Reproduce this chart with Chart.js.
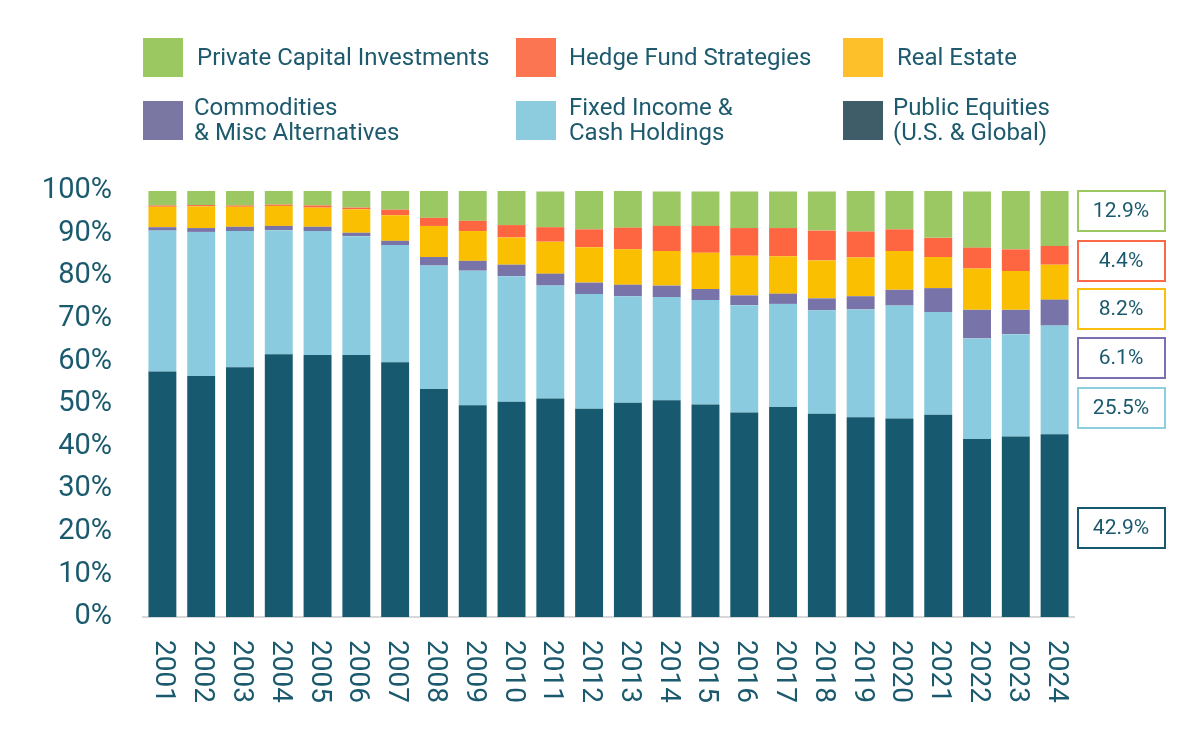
<!DOCTYPE html>
<html>
<head>
<meta charset="utf-8">
<script src="https://cdn.jsdelivr.net/npm/chart.js@4/dist/chart.umd.min.js"></script>
<style>
  body { margin: 0; background: #fff; font-family: Roboto, "Noto Sans", sans-serif; }
  #wrap { position: relative; width: 1200px; height: 750px; }
  #legend { position: absolute; left: 0; top: 0; width: 1200px; height: 160px; color: #1d5a6d; font-size: 24px; }
  .item { position: absolute; display: flex; align-items: flex-start; }
  .box { width: 40px; height: 39px; margin-right: 13px; flex: none; }
  .item span { line-height: 25px; margin-top: 7px; }
  .item span.two { margin-top: -6px; }
</style>
</head>
<body>
<div id="wrap">
  <canvas id="chart" width="1200" height="750"></canvas>
  <div id="legend"></div>
</div>
<script>
// ============ DATA ============
const years = ["2001","2002","2003","2004","2005","2006","2007","2008","2009","2010","2011","2012",
  "2013","2014","2015","2016","2017","2018","2019","2020","2021","2022","2023","2024"];

const publicEquities = [57.6,56.6,58.6,61.7,61.5,61.5,59.8,53.5,49.7,50.5,51.3,48.9,50.3,50.9,49.9,48.0,49.3,47.7,46.9,46.6,47.5,41.8,42.4,42.9];
const fixedIncome    = [33.1,33.8,32.0,29.1,29.1,27.9,27.5,29.0,31.6,29.5,26.5,26.9,25.0,24.2,24.5,25.2,24.2,24.3,25.3,26.5,24.1,23.6,24.0,25.5];
const commodities    = [0.8,0.9,1.0,1.0,1.0,0.8,1.0,2.0,2.3,2.7,2.8,2.7,2.7,2.7,2.6,2.3,2.4,2.8,3.1,3.7,5.6,6.7,5.7,6.1];
const realEstate     = [4.8,5.1,4.7,4.7,4.5,5.5,6.0,7.3,7.0,6.4,7.5,8.3,8.3,8.1,8.5,9.3,8.8,8.9,9.1,9.1,7.3,9.7,9.1,8.2];
const hedgeFunds     = [0.3,0.3,0.3,0.3,0.5,0.4,1.3,1.9,2.4,2.9,3.4,4.2,5.1,5.9,6.3,6.5,6.6,7.0,6.1,5.1,4.5,4.9,5.1,4.4];
const privateCapital = [3.5,3.4,3.4,3.2,3.4,3.9,4.5,6.3,7.0,8.0,8.4,9.0,8.6,8.1,8.1,8.6,8.6,9.2,9.6,9.0,11.0,13.2,13.7,12.9];

const yTicks = [0,10,20,30,40,50,60,70,80,90,100];

const TEXT = "#1b5a6e";

// series, bottom of stack first
const series = [
  { label: ["Public Equities", "(U.S. & Global)"], data: publicEquities, color: "#175a70", legend: "#3e5d69", box: "#175a70" },
  { label: ["Fixed Income &", "Cash Holdings"], data: fixedIncome, color: "#8bcbdf", legend: "#8dccdf", box: "#8dcfe0" },
  { label: ["Commodities", "& Misc Alternatives"], data: commodities, color: "#7873a8", legend: "#7b77a3", box: "#7a6fb0" },
  { label: ["Real Estate"], data: realEstate, color: "#f9bf00", legend: "#fdc02a", box: "#fbbf10" },
  { label: ["Hedge Fund Strategies"], data: hedgeFunds, color: "#fe6541", legend: "#fb7553", box: "#fb6a48" },
  { label: ["Private Capital Investments"], data: privateCapital, color: "#9bc863", legend: "#9cc862", box: "#9cc862" }
];

// ============ LEGEND (html) ============
const legendSpots = [
  { s: 0, x: 843, y: 101, gap: 10 },
  { s: 1, x: 516, y: 101, gap: 13 },
  { s: 2, x: 143, y: 101, gap: 11 },
  { s: 3, x: 843, y: 38, gap: 14 },
  { s: 4, x: 516, y: 38, gap: 13 },
  { s: 5, x: 143, y: 38, gap: 14 }
];
const legend = document.getElementById("legend");
legendSpots.forEach((p) => {
  const ser = series[p.s];
  const div = document.createElement("div");
  div.className = "item";
  div.style.left = p.x + "px";
  div.style.top = p.y + "px";
  const cls = ser.label.length > 1 ? "two" : "";
  div.innerHTML = `<div class="box" style="background:${ser.legend};margin-right:${p.gap}px"></div><span class="${cls}">${ser.label.join("<br>")}</span>`;
  legend.appendChild(div);
});

// ============ PLUGINS ============
const yearLabels = {
  id: "yearLabels",
  afterDraw(chart) {
    const ctx = chart.ctx;
    const xs = chart.scales.x;
    ctx.save();
    ctx.fillStyle = TEXT;
    ctx.font = "28px Roboto";
    ctx.textAlign = "left";
    ctx.textBaseline = "middle";
    years.forEach((yr, i) => {
      ctx.save();
      ctx.translate(xs.getPixelForTick(i) + 1, 640);
      ctx.rotate(Math.PI / 2);
      ctx.fillText(yr, 0, 0);
      ctx.restore();
    });
    ctx.restore();
  }
};

const boxCenters = [528, 408, 358, 309, 261, 211];
const lastValues = {
  id: "lastValues",
  afterDraw(chart) {
    const ctx = chart.ctx;
    ctx.save();
    ctx.font = "21px Roboto";
    ctx.fillStyle = TEXT;
    ctx.textAlign = "center";
    ctx.textBaseline = "middle";
    series.forEach((ser, i) => {
      const v = ser.data[ser.data.length - 1];
      const cy = boxCenters[i];
      ctx.strokeStyle = ser.box;
      ctx.lineWidth = 2;
      ctx.strokeRect(1078, cy - 20, 87, 40);
      ctx.fillText(v.toFixed(1) + "%", 1121, cy + 1);
    });
    ctx.restore();
  }
};

// ============ CHART ============
const ctx = document.getElementById("chart").getContext("2d");
new Chart(ctx, {
  type: "bar",
  data: {
    labels: years,
    datasets: series.map((s) => ({
      label: s.label.join(" "),
      data: s.data,
      backgroundColor: s.color,
      borderWidth: 0,
      barPercentage: 0.72,
      categoryPercentage: 1
    }))
  },
  options: {
    responsive: false,
    animation: false,
    layout: { padding: { top: 191, right: 126, bottom: 0, left: 0 } },
    plugins: { legend: { display: false }, tooltip: { enabled: false } },
    scales: {
      x: {
        stacked: true,
        grid: { display: false, drawTicks: false },
        border: { display: true, color: "#d8d8d8", width: 2 },
        ticks: { display: false },
        afterFit(scale) { scale.height = 133; }
      },
      y: {
        stacked: true,
        min: 0,
        max: 100,
        afterBuildTicks(scale) { scale.ticks = yTicks.map((v) => ({ value: v })); },
        grid: { display: false, drawTicks: false },
        border: { display: false },
        ticks: {
          color: TEXT,
          font: { family: "Roboto", size: 29 },
          padding: 31,
          callback: (v) => v + "%"
        },
        afterFit(scale) { scale.width = 143; }
      }
    }
  },
  plugins: [yearLabels, lastValues]
});
</script>
</body>
</html>
